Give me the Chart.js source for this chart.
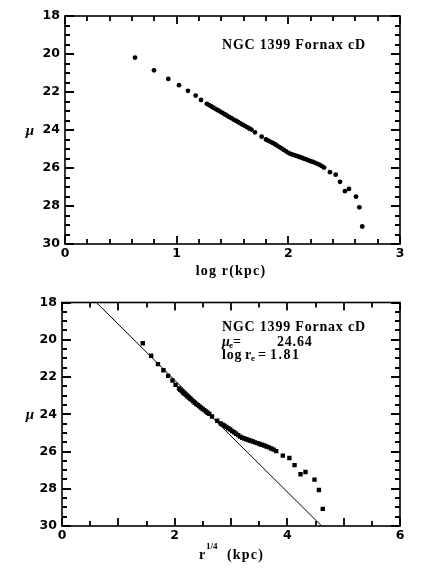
<!DOCTYPE html>
<html>
<head>
<meta charset="utf-8">
<script src="https://cdn.jsdelivr.net/npm/chart.js@4.4.0/dist/chart.umd.min.js"></script>
<style>
html, body { margin: 0; padding: 0; background: #fff; }
canvas { display: block; }
</style>
</head>
<body>
<canvas id="profile" width="444" height="290"></canvas>
<canvas id="devauc" width="444" height="285"></canvas>
<script>
// surface brightness profile of NGC 1399
const logR = [0.627, 0.797, 0.925, 1.021, 1.101, 1.170, 1.218,
  1.270, 1.290, 1.310, 1.330, 1.350, 1.370, 1.390, 1.410, 1.430, 1.450, 1.470,
  1.490, 1.510, 1.530, 1.550, 1.570, 1.590, 1.610, 1.630, 1.650, 1.670,
  1.701, 1.761,
  1.800, 1.820, 1.840, 1.860, 1.880, 1.900, 1.920, 1.940, 1.960, 1.980, 2.000,
  2.020, 2.040, 2.060, 2.080, 2.100, 2.120, 2.140, 2.160, 2.180, 2.200, 2.220,
  2.240, 2.260, 2.280, 2.300, 2.320,
  2.373, 2.424, 2.463, 2.507, 2.543, 2.606, 2.636, 2.662];
const mu = [20.19, 20.86, 21.31, 21.64, 21.94, 22.19, 22.42,
  22.62, 22.69, 22.76, 22.83, 22.90, 22.96, 23.03, 23.10, 23.17, 23.24, 23.31,
  23.38, 23.45, 23.51, 23.58, 23.65, 23.72, 23.78, 23.85, 23.92, 23.98,
  24.12, 24.35,
  24.50, 24.56, 24.62, 24.68, 24.75, 24.82, 24.90, 24.97, 25.05, 25.12, 25.20,
  25.26, 25.30, 25.34, 25.38, 25.42, 25.46, 25.51, 25.55, 25.60, 25.64, 25.68,
  25.73, 25.78, 25.84, 25.90, 25.98,
  26.22, 26.35, 26.73, 27.22, 27.10, 27.51, 28.07, 29.08];

// r^(1/4) law fit drawn in the lower panel (mu_e = 24.64, log r_e = 1.81)
const fitX = [0.61, 4.61];
const fitMu = [18, 30];

const muTicks = [18, 20, 22, 24, 26, 28, 30];

const quarter = logR.map(l => Math.pow(10, l / 4));

const tickFont = { family: 'DejaVu Sans', size: 12.5, weight: 'bold' };
const SERIF = '"Liberation Serif"';

// box with inward ticks on all four sides + free text
function makeFrame(cfg) {
  return {
    id: 'frame',
    afterDraw(chart) {
      const ctx = chart.ctx, a = chart.chartArea;
      const x = chart.scales.x, y = chart.scales.y;
      ctx.save();
      ctx.strokeStyle = '#000';
      ctx.lineWidth = 1.6;
      ctx.strokeRect(a.left, a.top, a.right - a.left, a.bottom - a.top);
      ctx.lineWidth = 1.8;
      const nx = Math.round((x.max - x.min) / cfg.xMinor);
      for (let i = 0; i <= nx; i++) {
        const v = x.min + i * cfg.xMinor;
        const px = Math.round(x.getPixelForValue(v));
        const maj = i % cfg.xEvery === 0;
        const len = maj ? 8 : 5;
        ctx.beginPath();
        ctx.moveTo(px, a.bottom); ctx.lineTo(px, a.bottom - len);
        ctx.moveTo(px, a.top); ctx.lineTo(px, a.top + len);
        ctx.stroke();
      }
      const ny = Math.round((30 - 18) / cfg.yMinor);
      for (let i = 0; i <= ny; i++) {
        const v = 18 + i * cfg.yMinor;
        const py = Math.round(y.getPixelForValue(v));
        const maj = i % cfg.yEvery === 0;
        const len = maj ? 9 : 5;
        ctx.beginPath();
        ctx.moveTo(a.left, py); ctx.lineTo(a.left + len, py);
        ctx.moveTo(a.right, py); ctx.lineTo(a.right - len, py);
        ctx.stroke();
      }
      ctx.fillStyle = '#000';
      ctx.textBaseline = 'alphabetic';
      ctx.font = 'bold italic 15px ' + SERIF;
      ctx.textAlign = 'center';
      ctx.fillText('\u03bc', 30, y.getPixelForValue(24) + 5);
      ctx.textAlign = 'left';
      cfg.labels(ctx);
      ctx.restore();
    }
  };
}

function scaleOpts(min, max, step, yWidth, xHeight) {
  return {
    x: {
      type: 'linear', min: min, max: max,
      grid: { display: false, drawTicks: false }, border: { display: false },
      ticks: { stepSize: step, color: '#000', font: tickFont, padding: 2 },
      afterFit: s => { s.height = xHeight; }
    },
    y: {
      type: 'linear', min: 18, max: 30, reverse: true,
      grid: { display: false, drawTicks: false }, border: { display: false },
      afterBuildTicks: s => { s.ticks = muTicks.map(v => ({ value: v })); },
      ticks: { color: '#000', font: tickFont, padding: 5 },
      afterFit: s => { s.width = yWidth; }
    }
  };
}

new Chart(document.getElementById('profile'), {
  type: 'scatter',
  data: {
    datasets: [{
      data: logR.map((l, i) => ({ x: l, y: mu[i] })),
      backgroundColor: '#000', borderColor: '#000',
      pointStyle: 'circle', pointRadius: 2.4, borderWidth: 0
    }]
  },
  options: {
    responsive: false, animation: false,
    layout: { padding: { top: 16, right: 44, left: 0, bottom: 0 } },
    plugins: { legend: { display: false }, tooltip: { enabled: false } },
    scales: scaleOpts(0, 3, 1, 65, 46)
  },
  plugins: [makeFrame({
    xMinor: 0.2, xEvery: 5, yMinor: 0.5, yEvery: 4,
    labels(ctx) {
      ctx.letterSpacing = '0.8px';
      ctx.font = 'bold 14px ' + SERIF;
      ctx.fillText('NGC 1399 Fornax cD', 222, 49);
      ctx.letterSpacing = '1.2px';
      ctx.textAlign = 'center';
      ctx.fillText('log r(kpc)', 231, 275);
    }
  })]
});

new Chart(document.getElementById('devauc'), {
  type: 'scatter',
  data: {
    datasets: [{
      data: quarter.map((q, i) => ({ x: q, y: mu[i] })),
      backgroundColor: '#000', borderColor: '#000',
      pointStyle: 'rect', pointRadius: 3.1, borderWidth: 0
    }, {
      type: 'line',
      data: fitX.map((v, i) => ({ x: v, y: fitMu[i] })),
      borderColor: '#000', borderWidth: 1, pointRadius: 0, fill: false
    }]
  },
  options: {
    responsive: false, animation: false,
    layout: { padding: { top: 7, right: 44, left: 0, bottom: 0 } },
    plugins: { legend: { display: false }, tooltip: { enabled: false } },
    scales: scaleOpts(0, 6, 2, 62, 49)
  },
  plugins: [makeFrame({
    xMinor: 0.5, xEvery: 2, yMinor: 0.5, yEvery: 4,
    labels(ctx) {
      ctx.letterSpacing = '0.8px';
      ctx.font = 'bold 14px ' + SERIF;
      ctx.fillText('NGC 1399 Fornax cD', 222, 41);
      ctx.font = 'bold italic 14px ' + SERIF;
      ctx.fillText('\u03bc', 222, 56);
      ctx.font = 'bold 14px ' + SERIF;
      ctx.fillText('=', 233, 56);
      ctx.fillText('24.64', 277, 56);
      ctx.fillText('log', 222, 69);
      ctx.fillText('r', 245, 69);
      ctx.fillText('=', 258, 69);
      ctx.letterSpacing = '1.5px';
      ctx.fillText('1.81', 270, 69);
      ctx.font = 'bold 9px ' + SERIF;
      ctx.letterSpacing = '0px';
      ctx.fillText('e', 229, 58);
      ctx.fillText('e', 251, 71);
      ctx.font = 'bold 14px ' + SERIF;
      ctx.letterSpacing = '1.2px';
      ctx.fillText('r', 199, 269);
      ctx.fillText('(kpc)', 227, 269);
      ctx.letterSpacing = '0px';
      ctx.font = 'bold 9px ' + SERIF;
      ctx.fillText('1/4', 206, 259);
    }
  })]
});
</script>
</body>
</html>
